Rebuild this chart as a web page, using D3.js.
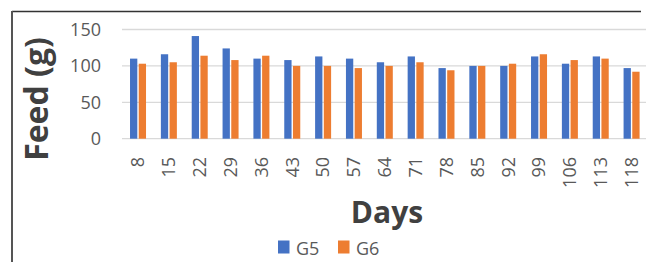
<!DOCTYPE html>
<html><head><meta charset="utf-8">
<script src="https://cdn.jsdelivr.net/npm/d3@7"></script>
<style>html,body{margin:0;padding:0;background:#fff;overflow:hidden}</style>
</head><body>
<svg id="c" width="646" height="262"></svg>
<script>
const days = ["8","15","22","29","36","43","50","57","64","71","78","85","92","99","106","113","118"];
const g5 = [110,116,141,124,110,108,113,110,105,113,97,100,100,113,103,113,97];
const g6 = [103,105,114,108,114,100,100,97,100,105,94,100,103,116,108,110,92];
const yTicks = [0,50,100,150];
const seriesNames = ["G5","G6"];
const colors = ["#4472C4","#ED7D31"];

const svg = d3.select("#c");
const font = "'Open Sans', sans-serif";

// frame
svg.append("line").attr("x1",12).attr("x2",641).attr("y1",11.5).attr("y2",11.5).attr("stroke","#333").attr("stroke-width",1.5);
svg.append("line").attr("x1",12).attr("x2",12).attr("y1",11).attr("y2",262).attr("stroke","#555").attr("stroke-width",2);

const x = d3.scaleBand().domain(days).range([122.6, 647.0]).padding(0);
const y = d3.scaleLinear().domain([0,150]).range([138.7, 29.5]);

// gridlines
svg.append("g").selectAll("line").data(yTicks).join("line")
  .attr("x1",122).attr("x2",646).attr("y1",d=>y(d)).attr("y2",d=>y(d))
  .attr("stroke","#d9d9d9").attr("stroke-width",1.3);

// y tick labels
svg.append("g").selectAll("text").data(yTicks).join("text")
  .attr("x",101).attr("y",d=>y(d)).attr("dy","0.35em")
  .attr("text-anchor","end").attr("font-family",font).attr("font-size",18).attr("fill","#595959")
  .text(d=>d);

// bars
const bw = 7.3, gap = 1.4;
const series = [g5, g6];
series.forEach((vals, si) => {
  svg.append("g").selectAll("rect").data(vals).join("rect")
    .attr("x",(d,i)=> x(days[i]) + x.bandwidth()/2 + (si===0 ? -bw - gap/2 : gap/2))
    .attr("y",d=>y(d)).attr("width",bw).attr("height",d=>y(0)-y(d))
    .attr("fill",colors[si]);
});

// x tick labels
svg.append("g").selectAll("text").data(days).join("text")
  .attr("transform",d=>`translate(${x(d)+x.bandwidth()/2},157) rotate(-90)`)
  .attr("dy","0.35em").attr("text-anchor","end")
  .attr("font-family",font).attr("font-size",18).attr("fill","#595959")
  .text(d=>d);

// axis titles
svg.append("text").attr("x",387).attr("y",223).attr("text-anchor","middle")
  .attr("font-family",font).attr("font-weight","bold").attr("font-size",30).attr("fill","#404040").text("Days");
svg.append("text").attr("transform","translate(48,99) rotate(-90)").attr("text-anchor","middle")
  .attr("font-family",font).attr("font-weight","bold").attr("font-size",32).attr("fill","#404040").text("Feed (g)");

// legend
const leg = svg.append("g");
const legX = [278, 338];
seriesNames.forEach((n,i)=>{
  leg.append("rect").attr("x",legX[i]).attr("y",240.5).attr("width",11.5).attr("height",13).attr("fill",colors[i]);
  leg.append("text").attr("x",legX[i]+18).attr("y",254.5).attr("font-family",font).attr("font-size",18).attr("fill","#595959").text(n);
});
</script>
</body></html>
